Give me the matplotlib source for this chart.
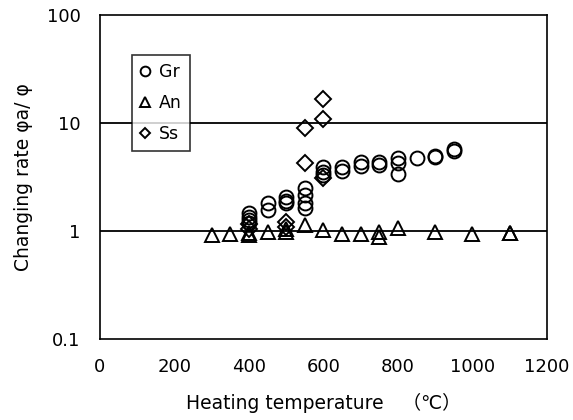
import matplotlib
matplotlib.use("Agg")
import matplotlib.pyplot as plt
from matplotlib.ticker import FixedLocator, NullLocator

plt.rcParams['font.family'] = ['DejaVu Sans', 'Noto Sans CJK JP']

# Gr (circles)
gr_temp = [400, 400, 400, 400, 450, 450, 500, 500, 500, 550, 550, 550, 550,
           600, 600, 600, 650, 650, 700, 700, 750, 750, 800, 800, 800,
           850, 900, 900, 950, 950]
gr_rate = [1.47, 1.35, 1.26, 1.19, 1.82, 1.56, 2.06, 1.9, 1.8, 2.5, 2.15, 1.8, 1.63,
           3.9, 3.5, 3.3, 3.9, 3.6, 4.4, 4.0, 4.4, 4.1, 4.7, 4.3, 3.4,
           4.7, 5.0, 4.8, 5.7, 5.5]

# An (triangles)
an_temp = [300, 350, 400, 400, 450, 500, 500, 550, 600, 650, 700, 750, 750,
           800, 900, 1000, 1100, 1100]
an_rate = [0.92, 0.93, 0.92, 0.96, 0.98, 0.98, 1.05, 1.13, 1.02, 0.94, 0.94, 0.98, 0.88,
           1.07, 0.98, 0.94, 0.96, 0.95]

# Ss (diamonds)
ss_temp = [400, 400, 500, 500, 550, 550, 600, 600, 600]
ss_rate = [1.15, 1.05, 1.2, 1.09, 9.0, 4.3, 16.7, 10.9, 3.1]

fig = plt.figure(figsize=(5.73, 4.2), dpi=100)
ax = fig.add_axes([0.1745, 0.193, 0.78, 0.771])

ax.set_yscale('log')
ax.set_xlim(0, 1200)
ax.set_ylim(0.1, 100)

# horizontal reference lines at 1 and 10
for v in (1, 10):
    ax.axhline(v, color='black', lw=1.3, zorder=1)

mk = dict(linestyle='none', markerfacecolor='none', markeredgecolor='black',
          markersize=10, markeredgewidth=1.4, zorder=3)
ax.plot(gr_temp, gr_rate, marker='o', label='Gr', **mk)
ax.plot(an_temp, an_rate, marker='^', label='An', **mk)
ax.plot(ss_temp, ss_rate, marker='D', label='Ss', **dict(mk, markersize=8))

ax.xaxis.set_major_locator(FixedLocator([0, 200, 400, 600, 800, 1000, 1200]))
ax.yaxis.set_major_locator(FixedLocator([0.1, 1, 10, 100]))
ax.yaxis.set_minor_locator(NullLocator())
ax.set_yticklabels(['0.1', '1', '10', '100'])
ax.tick_params(axis='both', length=0, labelsize=13)
ax.tick_params(axis='y', pad=14)
ax.tick_params(axis='x', pad=14)

for s in ax.spines.values():
    s.set_linewidth(1.2)

ax.set_xlabel('Heating temperature\u3000（℃）', fontsize=13.5, labelpad=12)
ax.set_ylabel('Changing rate φa/ φ', fontsize=13.5, labelpad=10)

leg = ax.legend(loc='upper left', bbox_to_anchor=(0.0716, 0.877), fontsize=12.5,
                frameon=True, fancybox=False, handlelength=0.6, handletextpad=0.5,
                borderpad=0.45, labelspacing=0.75, markerscale=0.7, borderaxespad=0)
leg.get_frame().set_edgecolor('black')
leg.get_frame().set_linewidth(1.2)

fig.savefig('out.png', dpi=100)
